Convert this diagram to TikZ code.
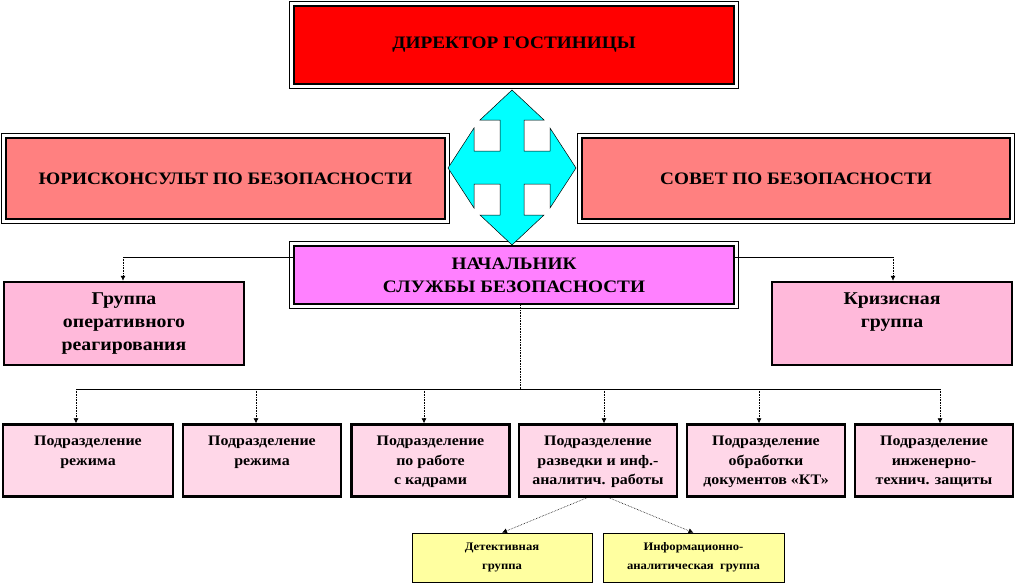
\documentclass[tikz,border=0pt]{standalone}
\usepackage{fontspec}
\setmainfont{Liberation Serif}[FakeStretch=1.1]
\usetikzlibrary{fit,arrows.meta,positioning}

\definecolor{jurred}{RGB}{255,128,128}
\definecolor{chiefmag}{RGB}{255,128,255}
\definecolor{grppink}{RGB}{255,185,218}
\definecolor{subpink}{RGB}{255,215,232}
\definecolor{ylw}{RGB}{255,255,160}
\definecolor{arrcyan}{RGB}{0,255,255}

\tikzset{
  thickbox/.style={draw, line width=2.5pt, inner sep=0pt, align=center},
  frame/.style={draw, line width=0.8pt, inner sep=3pt},
  topbox/.style={thickbox, font=\bfseries\fontsize{17.5}{23}\selectfont},
  grpbox/.style={thickbox, fill=grppink, minimum width=240, minimum height=83},
  grptext/.style={inner sep=0pt, align=center, font=\bfseries\fontsize{18}{23}\selectfont},
  subbox/.style={thickbox, fill=subpink, minimum width=158, minimum height=72},
  subtext/.style={inner sep=0pt, align=center, font=\bfseries\fontsize{14.5}{19.5}\selectfont},
  ybox/.style={draw, line width=0.6pt, fill=ylw, minimum width=180, minimum height=49,
    align=center, font=\bfseries\fontsize{11.5}{19}\selectfont},
  link/.style={line width=0.6pt},
  drop/.style={line width=0.6pt, densely dotted, -{Latex[length=5pt,width=5pt]}}
}

\begin{document}
\begin{tikzpicture}[x=1pt,y=-1pt]
\useasboundingbox (0,0) rectangle (1016,584);

%director and top level
\node[topbox, fill=red, minimum width=440, minimum height=78] (dir) at (514,45) {ДИРЕКТОР ГОСТИНИЦЫ};
\node[frame, fit=(dir)] {};

\node[topbox, fill=jurred, minimum width=439, minimum height=81] (jur) at (225.5,178.5) {ЮРИСКОНСУЛЬТ ПО БЕЗОПАСНОСТИ};
\node[frame, fit=(jur)] {};

\node[topbox, fill=jurred, minimum width=428, minimum height=81] (sov) at (796,178.5) {СОВЕТ ПО БЕЗОПАСНОСТИ};
\node[frame, fit=(sov)] {};

\node[topbox, fill=chiefmag, minimum width=440, minimum height=58] (chief) at (514,275) {НАЧАЛЬНИК\\СЛУЖБЫ БЕЗОПАСНОСТИ};
\node[frame, fit=(chief)] {};

%four-way arrow
\draw[fill=arrcyan, line width=0.5pt] (512,90) -- (544,120) -- (524,120) -- (524,151) -- (550,151)
  -- (550,128) -- (576,168) -- (550,208) -- (550,184) -- (524,184) -- (524,215) -- (544,215)
  -- (512,245) -- (480,215) -- (500,215) -- (500,184) -- (474,184) -- (474,208) -- (448,168)
  -- (474,128) -- (474,151) -- (500,151) -- (500,120) -- (480,120) -- cycle;

%groups
\node[grpbox] (opgr) at (124,323.5) {};
\node[grptext, below=12pt of opgr.north] (opgrt) {Группа\\оперативного\\реагирования};
\node[grpbox] (krgr) at (892,323.5) {};
\node[grptext, below=12pt of krgr.north] (krgrt) {Кризисная\\группа};

\coordinate (gl) at (123,257);
\coordinate (gr) at (893,257);
\draw[link] (chief.west |- gl) -- (gl);
\draw[drop] (gl) -- (gl |- opgr.north);
\draw[link] (chief.east |- gr) -- (gr);
\draw[drop] (gr) -- (gr |- krgr.north);

%subdivisions
\node[subbox, minimum width=170] (s1) at (88,460.5) {};
\node[subbox] (s2) at (262,460.5) {};
\node[subbox] (s3) at (430.5,460.5) {};
\node[subbox] (s4) at (598,460.5) {};
\node[subbox] (s5) at (766,460.5) {};
\node[subbox] (s6) at (934,460.5) {};

\node[subtext, below=13pt of s1.north] (s1t) {Подразделение\\режима};
\node[subtext, below=13pt of s2.north] (s2t) {Подразделение\\режима};
\node[subtext, below=13pt of s3.north] (s3t) {Подразделение\\по работе\\с кадрами};
\node[subtext, below=13pt of s4.north] (s4t) {Подразделение\\разведки и инф.-\\аналитич. работы};
\node[subtext, below=13pt of s5.north] (s5t) {Подразделение\\обработки\\документов «КТ»};
\node[subtext, below=13pt of s6.north] (s6t) {Подразделение\\инженерно-\\технич. защиты};

\coordinate (bus) at (520,389);
\draw[link, densely dotted] (chief.south -| bus) -- (bus);
\draw[link] (76,389) coordinate (b1) -- (940,389) coordinate (b6);
\coordinate (b2) at (256,389);
\coordinate (b3) at (424,389);
\coordinate (b4) at (604,389);
\coordinate (b5) at (759,389);
\foreach \i in {1,...,6}
  \draw[drop] (b\i) -- (b\i |- s\i.north);

%groups under s4
\node[ybox] (det) at (502,557.5) {Детективная\\группа};
\node[ybox, minimum width=181] (inf) at (693.5,557.5) {Информационно-\\аналитическая~~группа};

\draw[drop] ([xshift=-11pt]s4.south) -- (det.north);
\draw[drop] ([xshift=11pt]s4.south) -- (inf.north);

\end{tikzpicture}
\end{document}
